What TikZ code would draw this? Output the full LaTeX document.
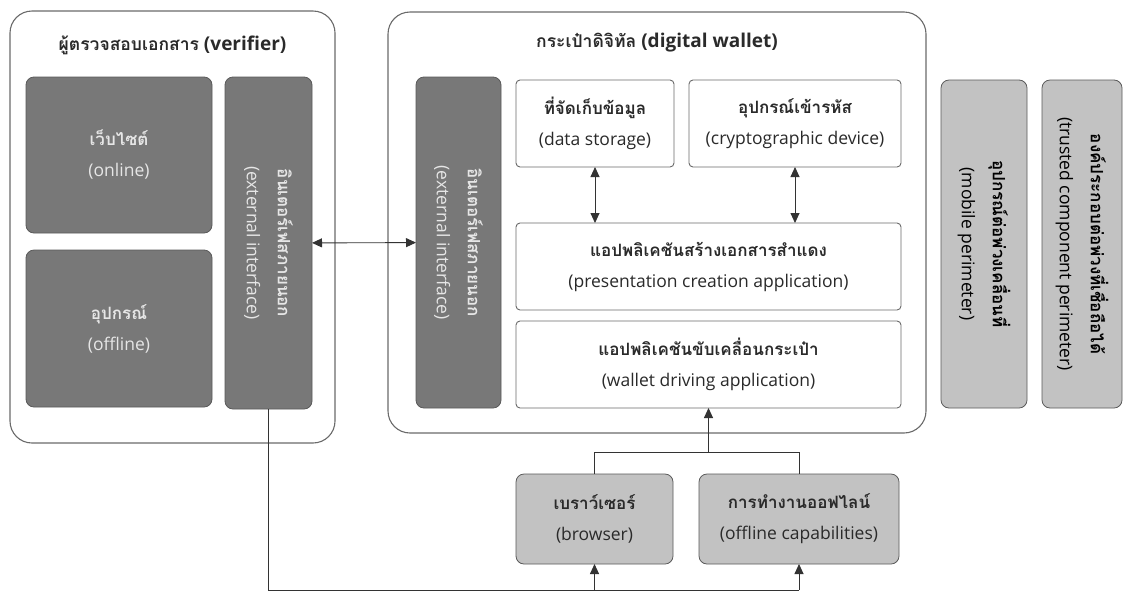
\documentclass[tikz,border=0pt]{standalone}
\usepackage{fontspec}
\setmainfont{Open Sans}
\newfontfamily\thaifont[Script=Thai]{Loma}
\newcommand\tht[1]{{\fontsize{17}{20}\selectfont\thaifont\bfseries #1}}
\newcommand\ttl[1]{{\fontsize{17.5}{22}\selectfont\thaifont\bfseries #1}}
\usetikzlibrary{arrows.meta}
\definecolor{darkfill}{HTML}{787878}
\definecolor{darkline}{HTML}{5A5A5A}
\definecolor{lightfill}{HTML}{C2C2C2}
\definecolor{frameline}{HTML}{6A6A6A}
\definecolor{lighttext}{HTML}{E6E6E6}
\definecolor{darktext}{HTML}{2A2A2A}
\begin{document}
\begin{tikzpicture}[x=1pt,y=-1pt,
  every node/.style={inner sep=0pt,outer sep=0pt},
  body/.style={font=\fontsize{17.5}{31}\selectfont,align=center},
  outerbox/.style={draw=frameline,line width=1.1pt,rounded corners=22pt,fill=white,anchor=north west},
  darkbox/.style={draw=darkline,line width=0.8pt,fill=darkfill,rounded corners=8pt,anchor=north west,text=lighttext,body},
  whitebox/.style={draw=frameline,line width=0.9pt,fill=white,rounded corners=4pt,anchor=north west,text=darktext,body},
  lightbox/.style={draw=darkline,line width=0.8pt,fill=lightfill,rounded corners=8pt,anchor=north west,text=darktext,body},
  vlabel/.style={rotate=-90,body},
  titletext/.style={font=\fontsize{19}{22}\selectfont\bfseries,text=darktext},
  conn/.style={line width=0.9pt,draw=black!80},
  arr/.style={conn,-{Triangle[length=10pt,width=9pt]}},
  darr/.style={conn,{Triangle[length=10pt,width=9pt]}-{Triangle[length=10pt,width=9pt]}}
]
\useasboundingbox (0,0) rectangle (1123,595);
\fill[white] (0,0) rectangle (1123,595);

% verifier
\node[outerbox,minimum width=325,minimum height=432] (ver) at (10,11) {};
\node[titletext] (vertitle) at (172.5,45) {\ttl{ผู้ตรวจสอบเอกสาร} (verifier)};
\node[darkbox,minimum width=186,minimum height=156] (online) at (26,77) {\tht{เว็บไซต์}\\(online)};
\node[darkbox,minimum width=186,minimum height=157] (offline) at (26,250) {\tht{อุปกรณ์}\\(offline)};
\node[darkbox,minimum width=87,minimum height=332] (vext) at (225,77) {};
\node[vlabel,text=lighttext] (vextlabel) at (vext.center) {\tht{อินเตอร์เฟสภายนอก}\\(external interface)};

% wallet
\node[outerbox,minimum width=538,minimum height=421] (wal) at (388,12) {};
\node[titletext] (waltitle) at (657,43) {\ttl{กระเป๋าดิจิทัล} (digital wallet)};
\node[darkbox,minimum width=85,minimum height=331] (wext) at (416,77) {};
\node[vlabel,text=lighttext] (wextlabel) at (wext.center) {\tht{อินเตอร์เฟสภายนอก}\\(external interface)};
\node[whitebox,minimum width=158,minimum height=87] (data) at (516,80) {\tht{ที่จัดเก็บข้อมูล}\\(data storage)};
\node[whitebox,minimum width=212,minimum height=87] (crypto) at (689,80) {\tht{อุปกรณ์เข้ารหัส}\\(cryptographic device)};
\node[whitebox,minimum width=385,minimum height=87] (pres) at (516,223) {\tht{แอปพลิเคชันสร้างเอกสารสำแดง}\\(presentation creation application)};
\node[whitebox,minimum width=385,minimum height=87] (drive) at (516,321) {\tht{แอปพลิเคชันขับเคลื่อนกระเป๋า}\\(wallet driving application)};

% perimeters
\node[lightbox,minimum width=86,minimum height=328] (mobile) at (941,80) {};
\node[vlabel] (mobilelabel) at (mobile.center) {\tht{อุปกรณ์ต่อพ่วงเคลื่อนที่}\\(mobile perimeter)};
\node[lightbox,minimum width=80,minimum height=328] (trusted) at (1042,80) {};
\node[vlabel] (trustedlabel) at (trusted.center) {\tht{องค์ประกอบต่อพ่วงที่เชื่อถือได้}\\(trusted component perimeter)};

% browser / offline capabilities
\node[lightbox,minimum width=157,minimum height=90] (browser) at (516,474) {\tht{เบราว์เซอร์}\\(browser)};
\node[lightbox,minimum width=200,minimum height=90] (offcap) at (699,474) {\tht{การทำงานออฟไลน์}\\(offline capabilities)};

% connectors
\draw[darr] (vext) -- (wext);
\draw[darr] (data.south) -- (data.south |- pres.north);
\draw[darr] (crypto.south |- data.south) -- (crypto.south |- pres.north);
\coordinate (j) at (708.5,452);
\draw[conn] (browser.north) |- (offcap.north |- j) -- (offcap.north);
\draw[arr] (j) -- (drive.south);
\coordinate (bl) at (268.5,590);
\coordinate (br) at (799,590);
\draw[conn] (vext.south) -- (bl) -- (br);
\draw[arr] (bl -| browser.south) -- (browser.south);
\draw[arr] (br) -- (offcap.south);
\end{tikzpicture}
\end{document}
